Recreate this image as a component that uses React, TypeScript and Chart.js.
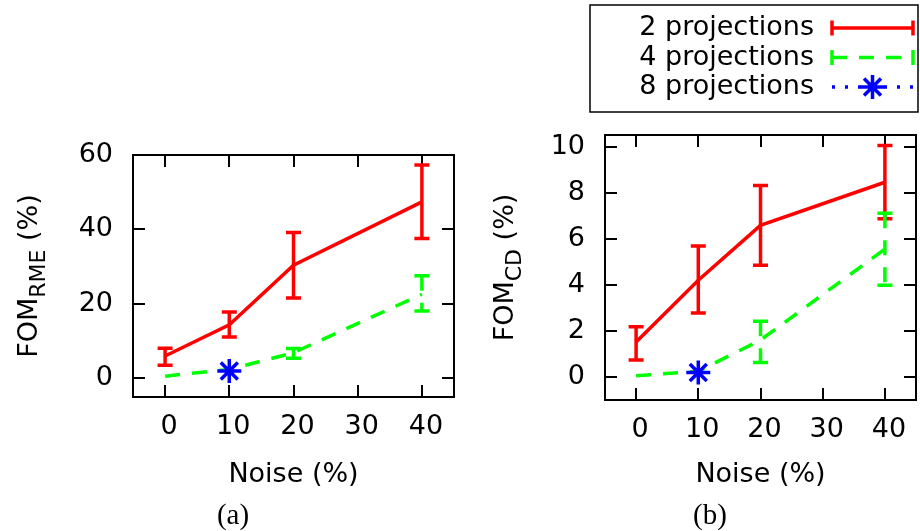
import React, { useEffect, useRef } from "react";
import { Chart, registerables } from "chart.js";

Chart.register(...registerables);

// ---------- data ----------
const NOISE = [0, 10, 20, 40];
const X_TICKS = [0, 10, 20, 30, 40];
const LEGEND_LABELS = ["2 projections", "4 projections", "8 projections"];

// Panel (a): FOM_RME (%)
const RME_2 = [6.0, 14.4, 30.4, 47.4];
const RME_2_LO = [3.5, 11.1, 21.6, 37.6];
const RME_2_HI = [8.1, 17.8, 39.2, 57.3];
const RME_4 = [0.6, 2.4, 6.9, 22.6];
const RME_4_LO = [null, null, 5.4, 18.1];
const RME_4_HI = [null, null, 8.0, 27.6];
const RME_8_NOISE = [10];
const RME_8 = [2.0];
const RME_Y_TICKS = [0, 20, 40, 60];

// Panel (b): FOM_CD (%)
const CD_2 = [1.52, 4.2, 6.58, 8.45];
const CD_2_LO = [0.74, 2.78, 4.85, 6.87];
const CD_2_HI = [2.18, 5.68, 8.31, 10.04];
const CD_4 = [0.05, 0.25, 1.6, 5.55];
const CD_4_LO = [null, null, 0.63, 3.98];
const CD_4_HI = [null, null, 2.42, 7.1];
const CD_8_NOISE = [10];
const CD_8 = [0.19];
const CD_Y_TICKS = [0, 2, 4, 6, 8, 10];

// ---------- styles ----------
const RED = "#ff0000";
const GREEN = "#00ff00";
const BLUE = "#0000ff";
const DASH = [15, 12];
const DOT = [3, 10];
const FONT = "DejaVu Sans";
const FS = 27;
const LW = 3.5;

const framePlugin = {
  id: "frame",
  beforeDatasetsDraw(chart: any) {
    const { ctx, chartArea: a, scales } = chart;
    const T = 12;
    ctx.save();
    ctx.strokeStyle = "#000";
    ctx.lineWidth = 2;
    ctx.setLineDash([]);
    ctx.beginPath();
    for (const t of scales.x.ticks) {
      const px = Math.round(scales.x.getPixelForValue(t.value));
      ctx.moveTo(px, a.bottom);
      ctx.lineTo(px, a.bottom - T);
      ctx.moveTo(px, a.top);
      ctx.lineTo(px, a.top + T);
    }
    for (const t of scales.y.ticks) {
      const py = Math.round(scales.y.getPixelForValue(t.value));
      ctx.moveTo(a.left, py);
      ctx.lineTo(a.left + T, py);
      ctx.moveTo(a.right, py);
      ctx.lineTo(a.right - T, py);
    }
    ctx.stroke();
    ctx.strokeRect(a.left, a.top, a.right - a.left, a.bottom - a.top);
    ctx.restore();
  },
};

const errorBarPlugin = {
  id: "errbars",
  afterDatasetsDraw(chart: any) {
    const { ctx, scales } = chart;
    const CAP = 7.5;
    chart.data.datasets.forEach((ds: any) => {
      if (!ds.errLo) return;
      ctx.save();
      ctx.strokeStyle = ds.borderColor;
      ctx.lineWidth = LW;
      ds.data.forEach((p: any, i: number) => {
        const lo = ds.errLo[i];
        const hi = ds.errHi[i];
        if (lo == null || hi == null) return;
        const px = scales.x.getPixelForValue(p.x);
        const yl = scales.y.getPixelForValue(lo);
        const yh = scales.y.getPixelForValue(hi);
        ctx.setLineDash(ds.borderDash || []);
        ctx.lineDashOffset = 0;
        ctx.beginPath();
        ctx.moveTo(px, yh);
        ctx.lineTo(px, yl);
        ctx.stroke();
        ctx.setLineDash([]);
        ctx.beginPath();
        ctx.moveTo(px - CAP, yh);
        ctx.lineTo(px + CAP, yh);
        ctx.moveTo(px - CAP, yl);
        ctx.lineTo(px + CAP, yl);
        ctx.stroke();
      });
      ctx.restore();
    });
  },
};

const textPlugin = {
  id: "texts",
  afterDraw(chart: any, _args: any, opts: any) {
    const { ctx, chartArea: a } = chart;
    ctx.save();
    ctx.fillStyle = "#000";
    // x title
    ctx.font = `${FS}px "${FONT}"`;
    ctx.textAlign = "center";
    ctx.textBaseline = "middle";
    ctx.fillText(opts.xTitle, (a.left + a.right) / 2, opts.xTitleY);
    // caption
    ctx.font = `29px "Liberation Serif"`;
    ctx.fillText(opts.caption, opts.captionX, opts.captionY);
    // y title with subscript (rotated)
    ctx.translate(opts.yTitleX, (a.top + a.bottom) / 2);
    ctx.rotate(-Math.PI / 2);
    const subFs = Math.round(FS * 0.8);
    ctx.font = `${FS}px "${FONT}"`;
    const w1 = ctx.measureText(opts.yMain).width;
    const w3 = ctx.measureText(opts.yRest).width;
    ctx.font = `${subFs}px "${FONT}"`;
    const w2 = ctx.measureText(opts.ySub).width;
    const total = w1 + w2 + w3;
    let x = -total / 2;
    ctx.textAlign = "left";
    ctx.textBaseline = "alphabetic";
    ctx.font = `${FS}px "${FONT}"`;
    ctx.fillText(opts.yMain, x, 0);
    x += w1;
    ctx.font = `${subFs}px "${FONT}"`;
    ctx.fillText(opts.ySub, x, 8);
    x += w2;
    ctx.font = `${FS}px "${FONT}"`;
    ctx.fillText(opts.yRest, x, 0);
    ctx.restore();
  },
};

const keyPlugin = {
  id: "keybox",
  afterDraw(chart: any, _args: any, opts: any) {
    if (!opts || !opts.show) return;
    const { ctx } = chart;
    const ox = opts.offsetX;
    ctx.save();
    ctx.strokeStyle = "#000";
    ctx.lineWidth = 1.5;
    ctx.setLineDash([]);
    ctx.strokeRect(590 - ox, 5, 328, 107);
    const rows = [28, 57.5, 87];
    const styles = [
      { c: RED, d: [] as number[], caps: true, star: false },
      { c: GREEN, d: DASH, caps: true, star: false },
      { c: BLUE, d: DOT, caps: false, star: true },
    ];
    const x0 = 832 - ox;
    const x1 = 913 - ox;
    ctx.font = `${FS}px "${FONT}"`;
    ctx.textAlign = "right";
    ctx.textBaseline = "middle";
    rows.forEach((y, i) => {
      ctx.fillStyle = "#000";
      ctx.fillText(LEGEND_LABELS[i], 814 - ox, y);
      const s = styles[i];
      ctx.strokeStyle = s.c;
      ctx.lineWidth = LW;
      ctx.setLineDash(s.d);
      ctx.beginPath();
      ctx.moveTo(x0, y);
      ctx.lineTo(x1, y);
      ctx.stroke();
      ctx.setLineDash([]);
      if (s.caps) {
        ctx.beginPath();
        ctx.moveTo(x0, y - 7.5);
        ctx.lineTo(x0, y + 7.5);
        ctx.moveTo(x1, y - 7.5);
        ctx.lineTo(x1, y + 7.5);
        ctx.stroke();
      }
      if (s.star) {
        const cx = (x0 + x1) / 2;
        const r = 12;
        const q = r * Math.SQRT1_2;
        ctx.beginPath();
        ctx.moveTo(cx - r, y);
        ctx.lineTo(cx + r, y);
        ctx.moveTo(cx, y - r);
        ctx.lineTo(cx, y + r);
        ctx.moveTo(cx - q, y - q);
        ctx.lineTo(cx + q, y + q);
        ctx.moveTo(cx - q, y + q);
        ctx.lineTo(cx + q, y - q);
        ctx.stroke();
      }
    });
    ctx.restore();
  },
};

type PanelProps = {
  left: number;
  y2: number[];
  y2lo: number[];
  y2hi: number[];
  y4: number[];
  y4lo: (number | null)[];
  y4hi: (number | null)[];
  x8: number[];
  y8: number[];
  yTicks: number[];
  yMin: number;
  yMax: number;
  padTop: number;
  padRight: number;
  yWidth: number;
  xHeight: number;
  ySub: string;
  yTitleX: number;
  caption: string;
  captionX: number;
  showKey: boolean;
};

function Panel(p: PanelProps) {
  const ref = useRef<HTMLCanvasElement | null>(null);
  useEffect(() => {
    if (!ref.current) return;
    const pts = (xs: number[], ys: number[]) => xs.map((x, i) => ({ x, y: ys[i] }));
    const chart = new Chart(ref.current, {
      type: "line",
      data: {
        datasets: [
          {
            label: LEGEND_LABELS[0],
            data: pts(NOISE, p.y2),
            borderColor: RED,
            borderWidth: LW,
            pointRadius: 0,
            fill: false,
            order: 1,
            errLo: p.y2lo,
            errHi: p.y2hi,
          } as any,
          {
            label: LEGEND_LABELS[1],
            data: pts(NOISE, p.y4),
            borderColor: GREEN,
            borderWidth: LW,
            borderDash: DASH,
            pointRadius: 0,
            fill: false,
            order: 2,
            errLo: p.y4lo,
            errHi: p.y4hi,
          } as any,
          {
            label: LEGEND_LABELS[2],
            data: pts(p.x8, p.y8),
            borderColor: BLUE,
            backgroundColor: BLUE,
            borderWidth: LW,
            borderDash: DOT,
            pointStyle: "star",
            pointRadius: 12,
            pointBorderWidth: 3.5,
            pointBorderColor: BLUE,
            fill: false,
            order: 0,
          } as any,
        ],
      },
      options: {
        responsive: false,
        animation: false,
        devicePixelRatio: 1,
        layout: {
          autoPadding: false,
          padding: { top: p.padTop, right: p.padRight, left: 0, bottom: 0 },
        },
        plugins: {
          legend: { display: false },
          tooltip: { enabled: false },
          texts: {
            xTitle: "Noise (%)",
            xTitleY: 475,
            caption: p.caption,
            captionX: p.captionX,
            captionY: 516,
            yMain: "FOM",
            ySub: p.ySub,
            yRest: " (%)",
            yTitleX: p.yTitleX,
          },
          keybox: { show: p.showKey, offsetX: p.left },
        } as any,
        scales: {
          x: {
            type: "linear",
            min: -5,
            max: 45,
            grid: { display: false, drawTicks: false },
            border: { display: false },
            ticks: {
              color: "#000",
              font: { family: FONT, size: FS },
              padding: 14,
              labelOffset: 4,
            },
            afterBuildTicks: (s: any) => {
              s.ticks = X_TICKS.map((v) => ({ value: v }));
            },
            afterFit: (s: any) => {
              s.height = p.xHeight;
              s.paddingLeft = 0;
              s.paddingRight = 0;
            },
          },
          y: {
            type: "linear",
            min: p.yMin,
            max: p.yMax,
            grid: { display: false, drawTicks: false },
            border: { display: false },
            ticks: {
              color: "#000",
              font: { family: FONT, size: FS },
              padding: 20,
            },
            afterBuildTicks: (s: any) => {
              s.ticks = p.yTicks.map((v) => ({ value: v }));
            },
            afterFit: (s: any) => {
              s.width = p.yWidth;
              s.paddingTop = 0;
              s.paddingBottom = 0;
            },
          },
        },
      },
      plugins: [framePlugin, errorBarPlugin, textPlugin, keyPlugin],
    });
    return () => chart.destroy();
  }, []);
  return (
    <canvas
      ref={ref}
      width={460}
      height={531}
      style={{ position: "absolute", left: p.left, top: 0, width: 460, height: 531 }}
    />
  );
}

export default function App() {
  return (
    <div style={{ position: "absolute", left: 0, top: 0, width: 920, height: 531, background: "#fff" }}>
      <Panel
        left={0}
        y2={RME_2}
        y2lo={RME_2_LO}
        y2hi={RME_2_HI}
        y4={RME_4}
        y4lo={RME_4_LO}
        y4hi={RME_4_HI}
        x8={RME_8_NOISE}
        y8={RME_8}
        yTicks={RME_Y_TICKS}
        yMin={-5}
        yMax={60}
        padTop={155}
        padRight={6}
        yWidth={133}
        xHeight={134}
        ySub="RME"
        yTitleX={37}
        caption="(a)"
        captionX={233}
        showKey={false}
      />
      <Panel
        left={460}
        y2={CD_2}
        y2lo={CD_2_LO}
        y2hi={CD_2_HI}
        y4={CD_4}
        y4lo={CD_4_LO}
        y4hi={CD_4_HI}
        x8={CD_8_NOISE}
        y8={CD_8}
        yTicks={CD_Y_TICKS}
        yMin={-1}
        yMax={10.5}
        padTop={135}
        padRight={4}
        yWidth={145}
        xHeight={131}
        ySub="CD"
        yTitleX={53}
        caption="(b)"
        captionX={250}
        showKey={true}
      />
    </div>
  );
}
